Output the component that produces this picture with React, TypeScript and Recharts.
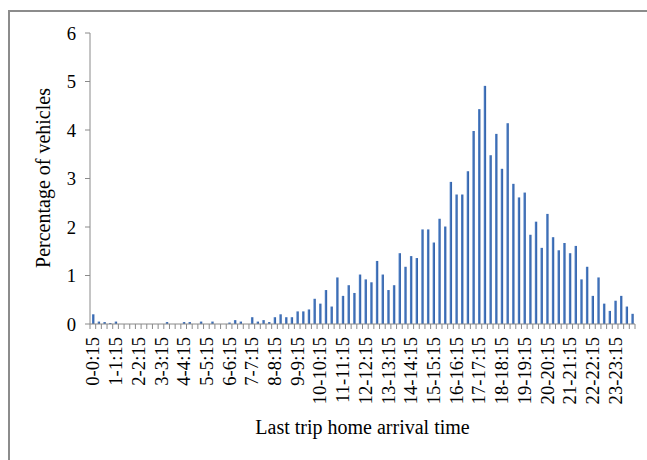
import React from 'react';
import { BarChart, Bar, XAxis, YAxis, Label } from 'recharts';

const hourLabels = [
  '0-0:15', '1-1:15', '2-2:15', '3-3:15', '4-4:15', '5-5:15', '6-6:15', '7-7:15',
  '8-8:15', '9-9:15', '10-10:15', '11-11:15', '12-12:15', '13-13:15', '14-14:15', '15-15:15',
  '16-16:15', '17-17:15', '18-18:15', '19-19:15', '20-20:15', '21-21:15', '22-22:15', '23-23:15',
];

const quarterSuffixes = ['', ':15', ':30', ':45'];

const percentages = [
  0.2, 0.05, 0.04, 0.02, 0.05, 0, 0, 0,
  0, 0, 0, 0, 0, 0.04, 0, 0,
  0.04, 0.04, 0, 0.05, 0, 0.05, 0, 0,
  0.03, 0.08, 0.05, 0, 0.14, 0.05, 0.08, 0.04,
  0.14, 0.2, 0.14, 0.14, 0.26, 0.26, 0.3, 0.52,
  0.42, 0.7, 0.36, 0.96, 0.58, 0.8, 0.64, 1.02,
  0.92, 0.86, 1.3, 1.02, 0.7, 0.8, 1.46, 1.18,
  1.4, 1.36, 1.95, 1.95, 1.68, 2.17, 2.01, 2.93,
  2.67, 2.67, 3.15, 3.98, 4.43, 4.91, 3.48, 3.92,
  3.2, 4.14, 2.89, 2.61, 2.71, 1.84, 2.11, 1.57,
  2.27, 1.79, 1.52, 1.67, 1.46, 1.61, 0.92, 1.18,
  0.58, 0.96, 0.42, 0.27, 0.48, 0.58, 0.36, 0.21,
];

const yTicks = [0, 1, 2, 3, 4, 5, 6];

const categories: string[] = [];
for (let h = 0; h < 24; h++) {
  for (let q = 0; q < 4; q++) {
    const start = `${h}${quarterSuffixes[q]}`;
    const end = q === 3 ? `${h + 1}` : `${h}${quarterSuffixes[q + 1]}`;
    categories.push(`${start}-${end}`);
  }
}

const data = categories.map((slot, i) => ({ slot, pct: percentages[i] }));

const W = 647;
const H = 460;
const MARGIN = { top: 33, right: 12, left: 0, bottom: 0 };
const Y_AXIS_W = 90;
const X_AXIS_H = 136;
const BAND = (W - MARGIN.right - MARGIN.left - Y_AXIS_W) / categories.length;
const AXIS_COLOR = '#8a8a8a';
const FONT = '"Liberation Serif", "Times New Roman", serif';

const XTick = (props: any) => {
  const { x, y, payload } = props;
  const index = payload?.index ?? props.index ?? 0;
  const showLabel = index % 4 === 0;
  const isLast = index === categories.length - 1;
  return (
    <g>
      <line x1={x - BAND / 2} x2={x - BAND / 2} y1={y} y2={y + 5} stroke={AXIS_COLOR} strokeWidth={1} />
      {isLast && (
        <line x1={x + BAND / 2} x2={x + BAND / 2} y1={y} y2={y + 5} stroke={AXIS_COLOR} strokeWidth={1} />
      )}
      {showLabel && (
        <g transform={`translate(${x},${y + 13})`}>
          <text
            transform="rotate(-90)"
            textAnchor="end"
            dy="0.35em"
            style={{ fontSize: 18.67, fontFamily: FONT }}
            fill="#000"
          >
            {hourLabels[index / 4]}
          </text>
        </g>
      )}
    </g>
  );
};

export default function App() {
  return (
    <div style={{ position: 'fixed', left: 0, top: 0, width: W, height: H, background: '#fff' }}>
      <div
        style={{
          position: 'absolute',
          left: 8,
          top: 10,
          width: W - 8,
          height: H - 10,
          borderLeft: '2px solid #8c8c8c',
          borderTop: '2px solid #8c8c8c',
          boxSizing: 'border-box',
        }}
      />
      <div style={{ position: 'absolute', left: 0, top: 0 }}>
        <BarChart width={W} height={H} data={data} margin={MARGIN} barSize={2.4}>
          <defs>
            <linearGradient id="barGrad" x1="0" y1="0" x2="1" y2="0">
              <stop offset="0%" stopColor="#5586cb" />
              <stop offset="100%" stopColor="#2c5ba3" />
            </linearGradient>
          </defs>
          <XAxis
            dataKey="slot"
            interval={0}
            height={X_AXIS_H}
            tickSize={0}
            tickMargin={0}
            tickLine={false}
            axisLine={{ stroke: AXIS_COLOR }}
            tick={<XTick />}
          >
            <Label
              content={() => (
                <text x={362.5} y={434} textAnchor="middle" style={{ fontSize: 20, fontFamily: FONT }} fill="#000">
                  Last trip home arrival time
                </text>
              )}
            />
          </XAxis>
          <YAxis
            width={Y_AXIS_W}
            domain={[0, 6]}
            ticks={yTicks}
            interval={0}
            tickSize={5}
            tickMargin={9}
            axisLine={{ stroke: AXIS_COLOR }}
            tickLine={{ stroke: AXIS_COLOR }}
            tick={{ fontSize: 18.67, fontFamily: FONT, fill: '#000' }}
          >
            <Label
              content={() => (
                <text
                  x={50}
                  y={178}
                  transform="rotate(-90 50 178)"
                  textAnchor="middle"
                  style={{ fontSize: 20, fontFamily: FONT }}
                  fill="#000"
                >
                  Percentage of vehicles
                </text>
              )}
            />
          </YAxis>
          <Bar dataKey="pct" fill="url(#barGrad)" isAnimationActive={false} />
        </BarChart>
      </div>
    </div>
  );
}
